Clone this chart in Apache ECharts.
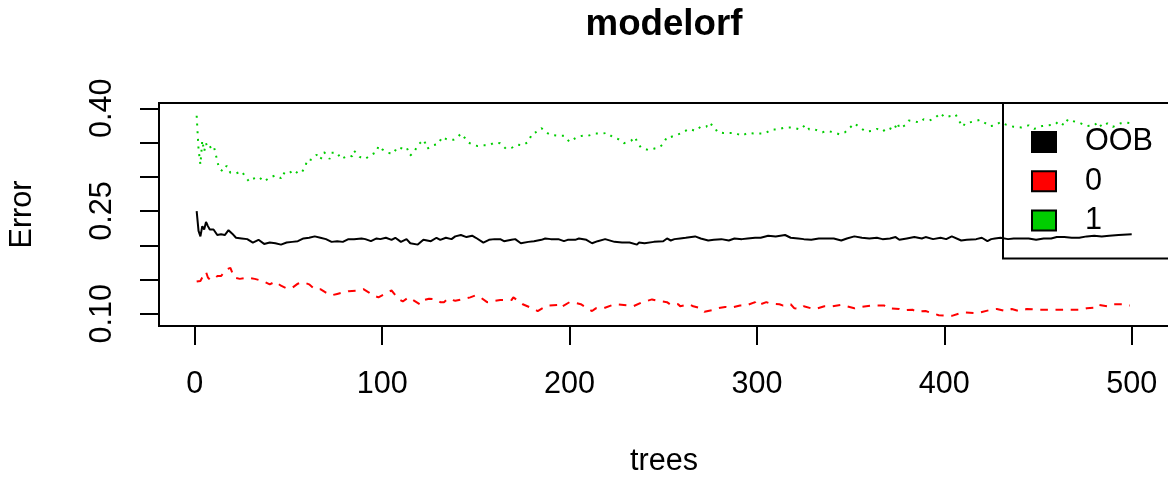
<!DOCTYPE html>
<html>
<head>
<meta charset="utf-8">
<title>modelorf</title>
<script src="https://cdn.jsdelivr.net/npm/echarts@6/dist/echarts.min.js"></script>
<style>
  html, body { margin: 0; padding: 0; background: #fff; }
  #chart { width: 1168px; height: 477px; }
</style>
</head>
<body>
<div id="chart"></div>
<script>
// error rates (trees -> error)
var oobTrees = [1,2,3,4,5,6,7,8,10,12,14,16,18,20,22,25,28,31,34,37,40,43,46,49,52,55,58,61,64,67,70,73,76,79,82,85,89,91,94,97,99,102,105,107,110,113,115,119,122,126,129,131,134,137,139,142,145,148,150,154,157,160,163,165,169,171,174,178,181,185,187,190,194,197,199,203,205,209,212,215,219,220,224,228,232,236,237,240,245,250,252,254,256,259,262,267,270,274,277,281,285,288,292,295,299,302,306,310,315,318,322,325,329,333,338,341,345,348,352,356,360,364,367,371,374,376,380,384,388,390,394,398,401,404,409,412,417,420,423,425,427,430,434,437,441,445,449,453,457,460,464,468,472,476,480,484,488,493,500];
var oobErr = [0.250,0.221,0.213,0.228,0.223,0.234,0.228,0.223,0.223,0.215,0.216,0.215,0.222,0.217,0.211,0.210,0.209,0.204,0.208,0.202,0.204,0.203,0.201,0.204,0.205,0.206,0.210,0.211,0.213,0.211,0.209,0.205,0.206,0.205,0.209,0.209,0.210,0.209,0.206,0.210,0.209,0.211,0.208,0.211,0.205,0.209,0.203,0.201,0.208,0.206,0.211,0.208,0.211,0.209,0.213,0.215,0.212,0.214,0.211,0.204,0.208,0.209,0.209,0.206,0.208,0.209,0.203,0.205,0.206,0.208,0.210,0.209,0.209,0.206,0.208,0.208,0.210,0.208,0.203,0.206,0.209,0.208,0.205,0.204,0.204,0.201,0.204,0.203,0.205,0.206,0.210,0.207,0.209,0.210,0.211,0.213,0.210,0.207,0.208,0.209,0.207,0.210,0.209,0.210,0.211,0.211,0.214,0.213,0.215,0.211,0.210,0.209,0.208,0.210,0.210,0.210,0.207,0.210,0.213,0.211,0.210,0.211,0.209,0.210,0.212,0.208,0.210,0.212,0.210,0.212,0.209,0.211,0.209,0.213,0.207,0.208,0.209,0.211,0.206,0.209,0.210,0.211,0.209,0.210,0.210,0.210,0.208,0.210,0.210,0.212,0.212,0.211,0.211,0.213,0.214,0.213,0.214,0.215,0.216];

var err0Trees = [1,3,5,6,7,8,10,12,14,17,19,21,24,28,32,36,40,43,46,49,52,55,58,61,64,67,70,73,76,79,82,87,90,93,95,98,100,105,109,111,114,116,120,121,125,129,131,133,135,139,144,147,150,152,156,157,163,164,169,170,175,181,183,188,194,195,200,203,206,212,214,218,224,232,234,238,244,247,252,254,258,259,264,266,270,272,277,279,283,286,291,294,299,300,305,307,312,314,318,320,323,325,329,331,336,340,345,352,355,361,368,370,376,378,383,385,390,391,397,398,404,405,410,417,419,425,428,433,436,440,444,450,457,465,473,476,481,482,487,490,496,499];
var err0 = [0.147,0.148,0.158,0.161,0.153,0.150,0.150,0.155,0.155,0.165,0.167,0.153,0.151,0.153,0.151,0.148,0.143,0.147,0.141,0.137,0.138,0.144,0.146,0.143,0.136,0.136,0.131,0.127,0.129,0.131,0.133,0.134,0.136,0.131,0.127,0.124,0.127,0.134,0.121,0.118,0.124,0.121,0.114,0.119,0.122,0.121,0.117,0.117,0.122,0.119,0.122,0.124,0.127,0.125,0.117,0.119,0.120,0.122,0.120,0.124,0.114,0.107,0.104,0.112,0.113,0.109,0.117,0.116,0.114,0.104,0.108,0.108,0.114,0.112,0.111,0.116,0.121,0.119,0.117,0.113,0.114,0.111,0.114,0.111,0.108,0.103,0.106,0.108,0.110,0.109,0.112,0.112,0.117,0.112,0.117,0.115,0.114,0.112,0.114,0.108,0.107,0.111,0.108,0.107,0.111,0.111,0.113,0.108,0.110,0.112,0.112,0.108,0.107,0.105,0.106,0.103,0.104,0.102,0.098,0.099,0.097,0.096,0.102,0.101,0.102,0.106,0.107,0.104,0.107,0.104,0.107,0.106,0.106,0.106,0.106,0.108,0.109,0.113,0.111,0.114,0.114,0.112];

var err1Trees = [1,2,3,4,5,6,7,8,10,11,12,13,15,17,19,22,25,27,29,31,34,37,40,43,46,47,49,53,55,57,59,60,62,65,67,69,72,73,76,78,82,84,85,88,91,94,97,98,100,103,106,108,111,113,115,117,119,122,123,124,127,130,132,135,138,140,142,144,146,149,151,154,157,160,163,166,169,172,175,178,180,182,185,188,190,194,197,200,204,207,210,214,217,220,223,226,229,233,235,236,238,242,245,248,250,252,254,259,261,264,267,270,273,274,277,279,282,285,288,292,295,300,304,308,311,315,319,323,326,328,331,333,335,337,341,344,347,349,352,355,358,361,364,367,370,373,375,376,379,381,384,387,389,392,395,398,400,402,404,406,408,410,411,413,416,419,421,424,427,430,433,437,441,445,448,452,455,459,461,464,466,469,472,476,480,482,484,487,490,494,497,500];
var err1 = [0.389,0.340,0.318,0.353,0.337,0.349,0.341,0.340,0.346,0.335,0.323,0.312,0.308,0.316,0.306,0.305,0.308,0.300,0.293,0.297,0.300,0.293,0.299,0.302,0.298,0.306,0.303,0.310,0.305,0.306,0.315,0.325,0.325,0.332,0.325,0.336,0.326,0.335,0.335,0.326,0.331,0.330,0.338,0.329,0.326,0.332,0.336,0.345,0.340,0.335,0.334,0.343,0.341,0.343,0.331,0.336,0.346,0.354,0.349,0.341,0.346,0.348,0.358,0.354,0.354,0.357,0.363,0.357,0.350,0.346,0.345,0.346,0.346,0.350,0.349,0.341,0.342,0.347,0.346,0.351,0.363,0.365,0.371,0.364,0.361,0.360,0.360,0.351,0.358,0.360,0.360,0.363,0.363,0.364,0.358,0.355,0.349,0.353,0.358,0.351,0.343,0.339,0.341,0.343,0.348,0.358,0.358,0.363,0.366,0.370,0.367,0.373,0.373,0.379,0.374,0.365,0.364,0.364,0.364,0.360,0.364,0.363,0.363,0.369,0.369,0.372,0.372,0.369,0.376,0.369,0.369,0.367,0.365,0.367,0.365,0.362,0.365,0.370,0.378,0.372,0.366,0.367,0.370,0.366,0.372,0.368,0.379,0.371,0.375,0.382,0.381,0.379,0.384,0.382,0.386,0.393,0.387,0.388,0.389,0.391,0.381,0.373,0.378,0.379,0.381,0.383,0.380,0.374,0.375,0.380,0.376,0.373,0.372,0.375,0.370,0.374,0.375,0.376,0.381,0.375,0.384,0.381,0.379,0.374,0.375,0.380,0.373,0.378,0.373,0.378,0.379,0.378];

var xTicks = [0, 100, 200, 300, 400, 500];
var yTicks = [0.10, 0.15, 0.20, 0.25, 0.30, 0.35, 0.40];
var yLabels = [0.10, 0.25, 0.40];

function pairs(xs, ys) {
    var out = [];
    for (var i = 0; i < xs.length; i++) {
        out.push([xs[i], ys[i]]);
    }
    return out;
}

var font = 'Liberation Sans, Arial, Helvetica, sans-serif';
var myChart = echarts.init(document.getElementById('chart'), null, {renderer: 'canvas'});

option = {
    animation: false,
    backgroundColor: '#ffffff',
    title: {
        text: 'modelorf',
        left: 664,
        top: 6,
        padding: 0,
        textAlign: 'center',
        textStyle: {fontFamily: font, fontSize: 36.7, fontWeight: 'bold', color: '#000'}
    },
    legend: {
        data: ['OOB', '0', '1'],
        orient: 'vertical',
        left: 1003,
        top: 103,
        padding: [23.4, 80, 22.4, 28],
        itemGap: 8.3,
        itemWidth: 24,
        itemHeight: 20,
        icon: 'rect',
        borderColor: '#000',
        borderWidth: 2,
        borderRadius: 0,
        selectedMode: false,
        itemStyle: {borderColor: '#000', borderWidth: 2},
        textStyle: {fontFamily: font, fontSize: 30.6, color: '#000', padding: [0, 0, 0, 24]}
    },
    grid: {
        show: true,
        left: 159,
        top: 103,
        width: 1010,
        height: 223,
        borderColor: '#000',
        borderWidth: 2,
        backgroundColor: 'transparent',
        outerBoundsMode: 'none',
        containLabel: false
    },
    xAxis: {
        type: 'value',
        min: -19.1,
        max: 519.9,
        name: 'trees',
        nameLocation: 'middle',
        nameGap: 120,
        nameTextStyle: {fontFamily: font, fontSize: 30.6, color: '#000'},
        axisLine: {show: false, onZero: false},
        splitLine: {show: false},
        axisTick: {show: true, length: 19, customValues: xTicks, lineStyle: {color: '#000', width: 2}},
        axisLabel: {
            customValues: xTicks,
            margin: 42.7,
            fontFamily: font,
            fontSize: 30.6,
            color: '#000'
        }
    },
    yAxis: {
        type: 'value',
        min: 0.0822,
        max: 0.4077,
        name: 'Error',
        nameLocation: 'middle',
        nameGap: 121,
        nameTextStyle: {fontFamily: font, fontSize: 30.6, color: '#000'},
        axisLine: {show: false, onZero: false},
        splitLine: {show: false},
        axisTick: {show: true, length: 19, customValues: yTicks, lineStyle: {color: '#000', width: 2}},
        axisLabel: {
            customValues: yLabels,
            rotate: 90,
            align: 'center',
            verticalAlign: 'bottom',
            margin: 41,
            fontFamily: font,
            fontSize: 30.6,
            color: '#000',
            formatter: function (v) { return v.toFixed(2); }
        }
    },
    series: [
        {
            name: 'OOB',
            type: 'line',
            data: pairs(oobTrees, oobErr),
            showSymbol: false,
            color: '#000000',
            lineStyle: {color: '#000000', width: 2, type: 'solid'},
            silent: true
        },
        {
            name: '0',
            type: 'line',
            data: pairs(err0Trees, err0),
            showSymbol: false,
            color: '#ff0000',
            lineStyle: {color: '#ff0000', width: 2, type: [7.6, 7.6], cap: 'butt'},
            silent: true
        },
        {
            name: '1',
            type: 'line',
            data: pairs(err1Trees, err1),
            showSymbol: false,
            color: '#00cd00',
            lineStyle: {color: '#00cd00', width: 2, type: [2, 5.7], cap: 'butt'},
            silent: true
        }
    ]
};
myChart.setOption(option);
</script>
</body>
</html>
